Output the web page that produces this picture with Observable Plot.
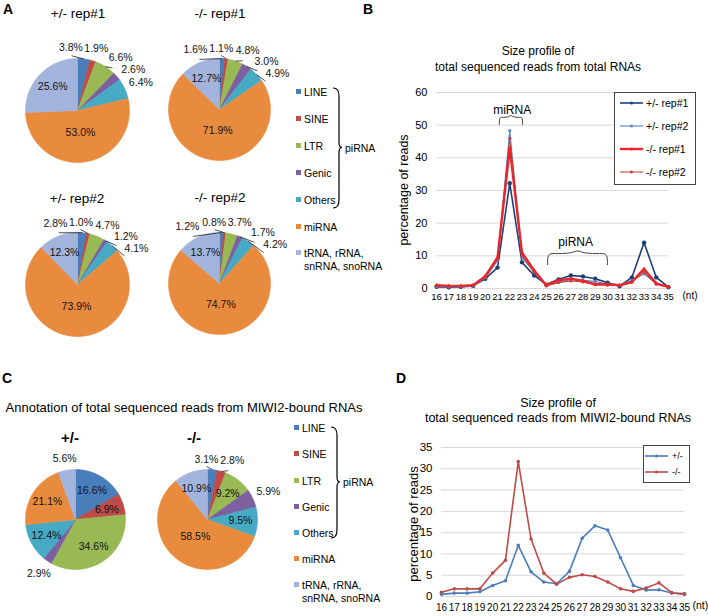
<!DOCTYPE html>
<html><head><meta charset="utf-8">
<script src="https://cdn.jsdelivr.net/npm/d3@7"></script>
<script src="https://cdn.jsdelivr.net/npm/@observablehq/plot@0.6"></script>
<style>
body{margin:0;background:#fff;font-family:"Liberation Sans",Arial,sans-serif;color:#000;}
#root{position:relative;width:708px;height:616px;overflow:hidden;background:#fff;}
</style></head><body><div id="root"></div>
<script>
// ---------- data ----------
const categories = ["LINE","SINE","LTR","Genic","Others","miRNA","tRNA, rRNA, snRNA, snoRNA"];
const catColors  = ["#4a7ebb","#be4b48","#98b954","#7d60a0","#46aac5","#e98b3f","#a2b4dc"];
const pieTitlesA = ["+/- rep#1","-/- rep#1","+/- rep#2","-/- rep#2"];
const pieA1 = [3.8,1.9,6.6,2.6,6.4,53.0,25.6];
const pieA2 = [1.6,1.1,4.8,3.0,4.9,71.9,12.7];
const pieA3 = [2.8,1.0,4.7,1.2,4.1,73.9,12.3];
const pieA4 = [1.2,0.8,3.7,1.7,4.2,74.7,13.7];
const pieTitlesC = ["+/-","-/-"];
const pieC1 = [16.6,6.9,34.6,2.9,12.4,21.1,5.6];
const pieC2 = [3.1,2.8,9.2,5.9,9.5,58.5,10.9];

const ntSizes = [16,17,18,19,20,21,22,23,24,25,26,27,28,29,30,31,32,33,34,35];
const yTicksB = [0,10,20,30,40,50,60];
const yTicksD = [0,5,10,15,20,25,30,35];
const seriesNamesB = ["+/- rep#1","+/- rep#2","-/- rep#1","-/- rep#2"];
const bHet1 = [0.5,0.4,0.5,0.8,3.0,6.4,32.2,8.0,4.0,1.2,2.8,4.0,3.7,3.0,1.8,0.7,3.4,14.0,3.4,0.4];
const bHet2 = [0.6,0.5,0.6,0.8,3.3,8.5,48.3,9.5,5.0,1.0,2.0,2.8,2.5,2.2,1.3,0.9,2.5,4.5,1.5,0.5];
const bKo1  = [1.0,0.8,0.8,1.0,3.8,9.5,43.0,11.0,5.5,1.0,2.5,3.0,2.3,1.3,1.3,1.0,2.0,6.0,1.5,0.5];
const bKo2  = [0.8,0.7,0.7,0.9,3.5,9.0,46.0,10.0,5.0,0.8,1.8,2.3,2.0,1.2,1.0,0.9,2.0,5.0,1.3,0.4];
const seriesNamesD = ["+/-","-/-"];
const dHet = [0.5,0.8,0.8,1.1,2.6,3.7,12.0,5.8,3.4,3.0,5.9,13.7,16.6,15.6,9.1,2.6,1.5,1.6,0.8,0.7];
const dKo  = [1.0,1.8,1.8,1.8,5.5,8.5,31.7,13.5,5.5,2.9,4.5,5.1,4.7,3.4,1.8,1.2,2.0,3.2,0.9,0.5];
const annB = [{label:"miRNA", x1:21.15, x2:23.05, yb:50.2, yt:52.4, tx:22.2, ty:54.5},
              {label:"piRNA", x1:25.1, x2:30.0, yb:7.3, yt:10.7, tx:27.4, ty:14.1}];

// ---------- helpers ----------
const FONT = "'Liberation Sans', Arial, sans-serif";
const root = document.getElementById("root");
const cv = document.createElement("canvas").getContext("2d");
function measure(t, fs){ cv.font = fs + "px " + FONT; return cv.measureText(t).width; }
function place(el, left, top){ el.style.position="absolute"; el.style.left=left+"px"; el.style.top=top+"px"; root.appendChild(el); return el; }
function txt(str, x, y, o = {}) {
  const d = document.createElement("div");
  d.textContent = str;
  const size = o.size || 12, anchor = o.anchor || "middle";
  d.style.cssText = `position:absolute;white-space:nowrap;font-size:${size}px;font-weight:${o.weight||"normal"};line-height:1;color:${o.color||"#000"};font-family:${FONT};`;
  d.style.left = x + "px"; d.style.top = y + "px";
  d.style.transform = `translate(${anchor==="middle"?"-50%":anchor==="end"?"-100%":"0"},-50%)` + (o.rotate ? ` rotate(${o.rotate}deg)` : "");
  root.appendChild(d);
  return d;
}

// ---------- pies ----------
function pieChart(values, cx, cy, R) {
  const S = 230, half = S/2/R, fs = 10.5, lh = 11;
  const arcs = d3.pie().sort(null).value(d => d)(values);
  const marks = [];
  arcs.forEach((a, i) => {
    const k = categories[i];
    const pts = [{k, x:0, y:0}];
    const n = Math.max(2, Math.ceil((a.endAngle - a.startAngle) * 180 / Math.PI));
    for (let j = 0; j <= n; j++) { const t = a.startAngle + (a.endAngle - a.startAngle) * j / n; pts.push({k, x:Math.sin(t), y:Math.cos(t)}); }
    pts.push({k, x:0, y:0});
    marks.push(Plot.line(pts, {x:"x", y:"y", fill:catColors[i], stroke:catColors[i], strokeWidth:0.6, curve:"linear-closed"}));
  });
  const labs = arcs.map((a, i) => { const t = values[i].toFixed(1) + "%"; return {t, v:values[i], mid:(a.startAngle + a.endAngle)/2, w:measure(t, fs)}; });
  const ins = labs.filter(l => l.v >= 6.8), outs = labs.filter(l => l.v < 6.8);
  ins.forEach(l => { const k = l.v > 45 ? 0.42 : 0.66; l.x = k*Math.sin(l.mid); l.y = k*Math.cos(l.mid); });
  outs.forEach(l => l.a = l.mid);
  const Rl = R + 18;
  for (let it = 0; it < 400; it++) for (let j = 0; j < outs.length - 1; j++) {
    const p = outs[j], q = outs[j+1], m = (p.a + q.a)/2;
    const c = Math.abs(Math.cos(m)), s = Math.abs(Math.sin(m));
    const need = Math.min(((p.w + q.w)/2 + 4)/Math.max(c, 1e-3), (lh + 2)/Math.max(s, 1e-3)) / Rl;
    const sep = q.a - p.a;
    if (sep < need) { const d = (need - sep)/2; p.a -= d; q.a += d; }
  }
  const gap = 4, leaders = [];
  outs.forEach(l => {
    const s = Math.sin(l.a), c = Math.cos(l.a);
    const d = R + gap + l.w/2*Math.abs(s) + lh/2*Math.abs(c);
    l.x = d*s/R; l.y = d*c/R;
    if (Math.abs(l.a - l.mid) > 0.1) leaders.push({x1:Math.sin(l.mid), y1:Math.cos(l.mid), x2:(R+gap-1)*s/R, y2:(R+gap-1)*c/R});
  });
  marks.push(Plot.link(leaders, {x1:"x1", y1:"y1", x2:"x2", y2:"y2", stroke:"#222", strokeWidth:0.8}));
  marks.push(Plot.text(labs, {x:"x", y:"y", text:"t", fill:"#111", fontSize:fs}));
  const svg = Plot.plot({
    width:S, height:S, margin:0,
    x:{domain:[-half, half], axis:null}, y:{domain:[-half, half], axis:null},
    style:{background:"transparent", overflow:"visible", fontFamily:FONT, fontSize:fs+"px"},
    marks
  });
  place(svg, cx - S/2, cy - S/2);
}

function pieLegend(x, rows, braceTop, braceBot, piY) {
  rows.forEach((y, i) => {
    const sq = document.createElement("div");
    sq.style.cssText = `width:5px;height:5px;background:${catColors[i]};`;
    place(sq, x, y - 3);
    if (i === 6) { txt("tRNA, rRNA,", x + 8, y, {size:10.5, anchor:"start"}); txt("snRNA, snoRNA", x + 8, y + 13, {size:10.5, anchor:"start"}); }
    else txt(categories[i], x + 8, y, {size:10.5, anchor:"start"});
  });
  const h = braceBot - braceTop, ym = h/2;
  const s = document.createElementNS("http://www.w3.org/2000/svg", "svg");
  s.setAttribute("width", 14); s.setAttribute("height", h + 2);
  s.style.overflow = "visible";
  s.innerHTML = `<path d="M0 1 Q6 1 6 9 L6 ${ym-5} Q6 ${ym} 9 ${ym} Q6 ${ym} 6 ${ym+5} L6 ${h-8} Q6 ${h} 0 ${h}" fill="none" stroke="#000" stroke-width="1.2"/>`;
  place(s, x + 37, braceTop);
  txt("piRNA", x + 49, piY, {size:10.5, anchor:"start"});
}

// Panel A
txt("A", 3, 9, {size:14, weight:"bold", anchor:"start"});
txt(pieTitlesA[0], 78, 14, {size:13.5});
txt(pieTitlesA[1], 220, 14, {size:13.5});
txt(pieTitlesA[2], 77, 199, {size:13.5});
txt(pieTitlesA[3], 220, 198, {size:13.5});
pieChart(pieA1, 77, 110, 52);
pieChart(pieA2, 219, 109, 51);
pieChart(pieA3, 77, 284, 52);
pieChart(pieA4, 219, 283, 51);
pieLegend(296, [92,119,146,173,200,227,253], 87, 208, 148);

// Panel C
txt("C", 2, 378, {size:14, weight:"bold", anchor:"start"});
txt("Annotation of total sequenced reads from MIWI2-bound RNAs", 184, 407, {size:13});
txt(pieTitlesC[0], 70, 437, {size:15, weight:"bold"});
txt(pieTitlesC[1], 194, 437, {size:15, weight:"bold"});
pieChart(pieC1, 75, 519, 50);
pieChart(pieC2, 207, 519, 50);
pieLegend(294, [428,454,481,507,533,559,585], 426, 538, 482);

// ---------- line charts ----------
function lineLegend(left, top, w, h, names, colors, widths, rowGap, fs, swLeft, txLeft, first) {
  const box = document.createElement("div");
  box.style.cssText = `width:${w}px;height:${h}px;border:1px solid #444;background:#fff;box-sizing:border-box;`;
  place(box, left, top);
  names.forEach((n, i) => {
    const y = top + first + i*rowGap;
    const s = document.createElementNS("http://www.w3.org/2000/svg", "svg");
    s.setAttribute("width", 24); s.setAttribute("height", 6);
    s.innerHTML = `<line x1="0" y1="3" x2="23" y2="3" stroke="${colors[i]}" stroke-width="${widths[i]}"/><circle cx="11.5" cy="3" r="1.6" fill="${colors[i]}"/>`;
    place(s, left + swLeft, y - 3);
    txt(n, left + txLeft, y, {size:fs, anchor:"start"});
  });
}
function bracePts(a) {
  const xm = (a.x1 + a.x2)/2, e = (a.x2 - a.x1)*0.1, tip = (a.yt - a.yb)*0.35;
  return [[a.x1,a.yb],[a.x1,a.yt],[a.x1+e,a.yt],[xm-e,a.yt],[xm,a.yt+tip],[xm+e,a.yt],[a.x2-e,a.yt],[a.x2,a.yt],[a.x2,a.yb]]
    .map(([x,y]) => ({x, y, label:a.label}));
}

// Panel B
txt("B", 363, 9, {size:14, weight:"bold", anchor:"start"});
txt("Size profile of", 538, 51, {size:12});
txt("total sequenced reads from total RNAs", 538, 67, {size:12});
txt("percentage of reads", 404, 190, {size:12.5, rotate:-90});
const colorsB = ["#1f3f77","#5b8ac6","#e8262b","#b94a48"];
const widthsB = [1.6,1.2,2.4,1.1];
const valsB = [bHet1, bHet2, bKo1, bKo2];
const marksB = [
  Plot.gridY(yTicksB, {stroke:"#d9d9d9", strokeOpacity:1}),
  Plot.axisY(yTicksB, {tickSize:0, tickPadding:9, label:null, fontSize:11}),
  Plot.axisX(ntSizes, {tickSize:0, tickPadding:5, label:null, fontSize:9.5}),
  Plot.text(["(nt)"], {frameAnchor:"bottom-right", text:d => d, textAnchor:"start", dx:14, dy:10, fontSize:10})
];
[0,1,3,2].forEach(si => {
  const rows = ntSizes.map((n, i) => ({n, v:valsB[si][i]}));
  marksB.push(Plot.line(rows, {x:"n", y:"v", stroke:colorsB[si], strokeWidth:widthsB[si]}));
  marksB.push(Plot.dot(rows, {x:"n", y:"v", fill:colorsB[si], r: si===0 ? 2.2 : 1.6, symbol: si===2 ? "triangle" : "circle"}));
});
annB.forEach(a => marksB.push(Plot.line(bracePts(a), {x:"x", y:"y", stroke:"#444", strokeWidth:1, curve:"basis"})));
marksB.push(Plot.text(annB, {x:"tx", y:"ty", text:"label", fontSize:12}));
const plotB = Plot.plot({
  width:348, height:230, marginLeft:76, marginRight:40, marginTop:12, marginBottom:22,
  x:{domain:[16,35]}, y:{domain:[0,60]},
  style:{background:"transparent", overflow:"visible", fontFamily:FONT, fontSize:"11px"},
  marks:marksB
});
place(plotB, 360, 80);
lineLegend(614, 92, 82, 93, seriesNamesB, colorsB, widthsB, 23, 10.5, 6, 32, 11);

// Panel D
txt("D", 396, 378, {size:14, weight:"bold", anchor:"start"});
txt("Size profile of", 558, 403, {size:12.5});
txt("total sequenced reads from MIWI2-bound RNAs", 558, 418, {size:12.5});
txt("percentage of reads", 413, 524, {size:13, rotate:-90});
const colorsD = ["#4a7ebb","#be4b48"];
const valsD = [dHet, dKo];
const marksD = [
  Plot.gridY(yTicksD, {stroke:"#d9d9d9", strokeOpacity:1}),
  Plot.axisY(yTicksD, {tickSize:0, tickPadding:9, label:null, fontSize:11.5}),
  Plot.axisX(ntSizes, {tickSize:0, tickPadding:7, label:null, fontSize:10}),
  Plot.text(["(nt)"], {frameAnchor:"bottom-right", text:d => d, textAnchor:"start", dx:8, dy:12, fontSize:10.5})
];
valsD.forEach((vals, si) => {
  const rows = ntSizes.map((n, i) => ({n, v:vals[i]}));
  marksD.push(Plot.line(rows, {x:"n", y:"v", stroke:colorsD[si], strokeWidth:1.6}));
  marksD.push(Plot.dot(rows, {x:"n", y:"v", fill:colorsD[si], r:1.8}));
});
const plotD = Plot.plot({
  width:348, height:186, marginLeft:81, marginRight:24, marginTop:17, marginBottom:20,
  x:{domain:[16,35]}, y:{domain:[0,35]},
  style:{background:"transparent", overflow:"visible", fontFamily:FONT, fontSize:"11.5px"},
  marks:marksD
});
place(plotD, 360, 430);
lineLegend(643, 445, 47, 38, seriesNamesD, colorsD, [1.6,1.6], 16, 9, 2, 29, 11);
</script></body></html>
